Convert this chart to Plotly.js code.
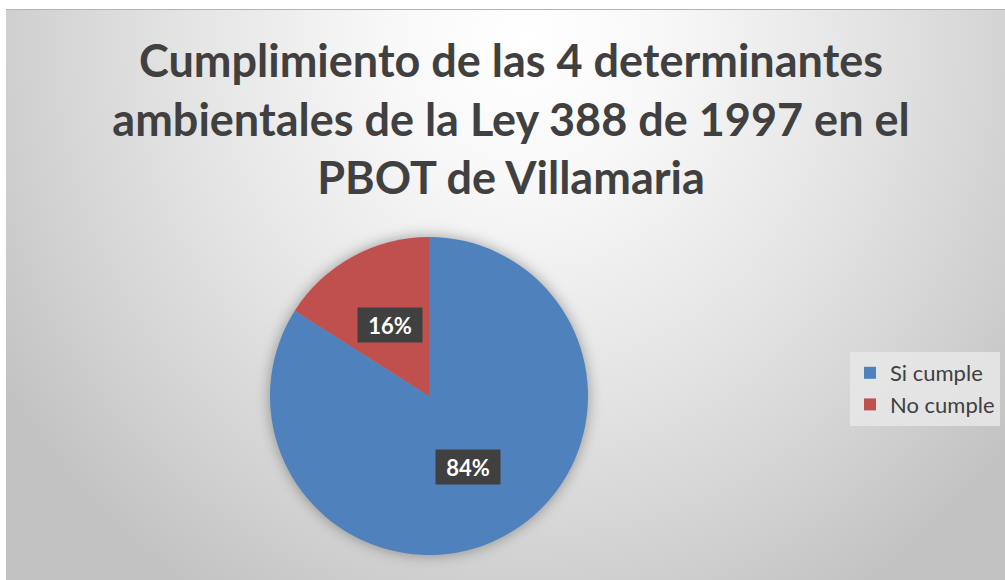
<!DOCTYPE html>
<html>
<head>
<meta charset="utf-8">
<script src="https://cdn.plot.ly/plotly-3.0.1.min.js"></script>
<style>
  html, body { margin: 0; padding: 0; background: #ffffff; width: 1005px; height: 580px; overflow: hidden; }
  #bg { position: absolute; left: 6px; top: 9px; width: 999px; height: 571px;
        border-top: 1px solid #b4b4b4; box-sizing: border-box;
        background: radial-gradient(ellipse 62% 115% at 52% 5%, #ffffff 0%, #f8f8f8 22%, #e4e4e4 55%, #d2d2d2 80%, #c2c2c2 100%); }
  #chart { position: absolute; left: 0; top: 0; width: 1005px; height: 580px; }
  .pielayer { filter: drop-shadow(0px 0px 7px rgba(0,0,0,0.35)); }
</style>
</head>
<body>
<div id="bg"></div>
<div id="chart"></div>
<script>
const categories = ['Si cumple', 'No cumple'];
const values = [84, 16];
const sliceColors = ['#4f81bd', '#c0504d'];
const titleText = 'Cumplimiento de las 4 determinantes<br>ambientales de la Ley 388 de 1997 en el<br>PBOT de Villamaria';

const W = 1005, H = 580;
const cxPx = 429, cyPx = 396, rPx = 159;
const domain = {
  x: [(cxPx - rPx) / W, (cxPx + rPx) / W],
  y: [1 - (cyPx + rPx) / H, 1 - (cyPx - rPx) / H]
};

// label positions derived from the data (clockwise from 12 o'clock)
const total = values.reduce((a, b) => a + b, 0);
const annotations = [];
let cum = 0;
const labelFrac = 0.51;
values.forEach((v, i) => {
  const mid = (cum + v / 2) / total * 2 * Math.PI;
  cum += v;
  const px = cxPx + labelFrac * rPx * Math.sin(mid);
  const py = cyPx - labelFrac * rPx * Math.cos(mid);
  annotations.push({
    xref: 'paper', yref: 'paper',
    x: px / W, y: 1 - py / H,
    xanchor: 'center', yanchor: 'middle',
    text: '<b>' + Math.round(v / total * 100) + '%</b>',
    showarrow: false,
    bgcolor: '#404040',
    width: 64, height: 34, borderpad: 0,
    font: { family: 'Lato, "Open Sans", sans-serif', size: 22, color: '#ffffff' }
  });
});

const data = [{
  type: 'pie',
  labels: categories,
  values: values,
  marker: { colors: sliceColors, line: { width: 0 } },
  sort: false,
  direction: 'clockwise',
  rotation: 0,
  textinfo: 'none',
  hoverinfo: 'label+percent',
  domain: domain
}];

const layout = {
  width: W, height: H,
  margin: { l: 0, r: 0, t: 0, b: 0 },
  paper_bgcolor: 'rgba(0,0,0,0)',
  plot_bgcolor: 'rgba(0,0,0,0)',
  title: {
    text: '<b>' + titleText + '</b>',
    x: 511 / W, xanchor: 'center', xref: 'paper',
    y: 1 - 77 / H, yanchor: 'top', yref: 'container',
    font: { family: 'Lato, "Open Sans", sans-serif', size: 45, color: '#404040' }
  },
  showlegend: true,
  legend: {
    x: 850 / W, xanchor: 'left',
    y: 1 - 352 / H, yanchor: 'top',
    bgcolor: 'rgba(232,232,232,0.85)',
    font: { family: 'Lato, "Open Sans", sans-serif', size: 22, color: '#404040' },
    itemwidth: 30
  },
  annotations: annotations
};

Plotly.newPlot('chart', data, layout, { displayModeBar: false, staticPlot: true });
</script>
</body>
</html>
